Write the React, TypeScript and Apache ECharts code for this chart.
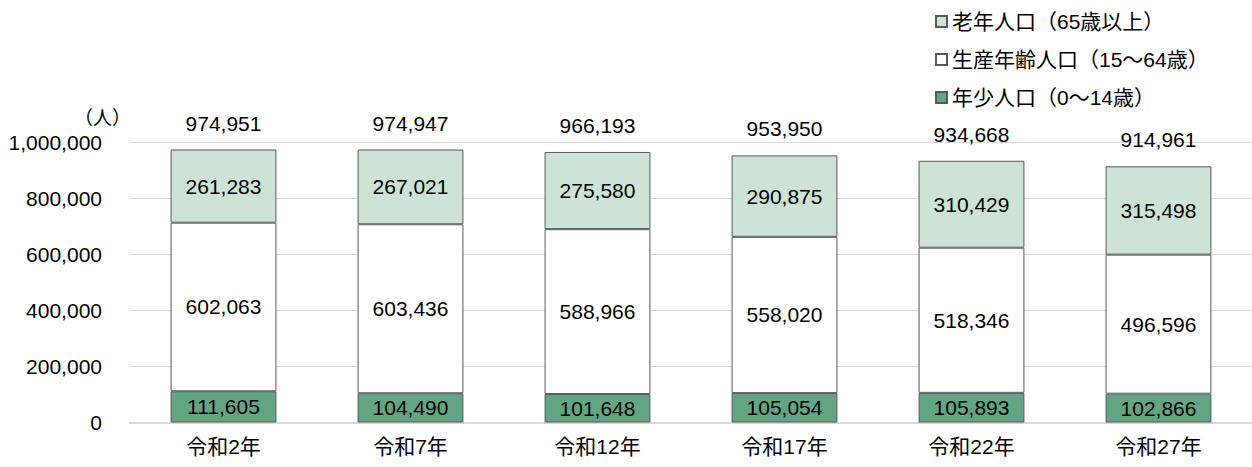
import React, { useEffect, useRef } from "react";
import * as echarts from "echarts";

const categories = ["令和2年", "令和7年", "令和12年", "令和17年", "令和22年", "令和27年"];
const youngValues = [111605, 104490, 101648, 105054, 105893, 102866];
const workingValues = [602063, 603436, 588966, 558020, 518346, 496596];
const elderlyValues = [261283, 267021, 275580, 290875, 310429, 315498];
const totalValues = [974951, 974947, 966193, 953950, 934668, 914961];
const seriesNames = ["年少人口(0～14歳)", "生産年齢人口(15～64歳)", "老年人口(65歳以上)"];
const yTicks = [0, 200000, 400000, 600000, 800000, 1000000];

const FONT = "'Liberation Sans', 'Noto Sans CJK JP', sans-serif";
const fmt = (v: number) => v.toLocaleString("en-US");

export default function App() {
  const ref = useRef<HTMLDivElement>(null);
  useEffect(() => {
    if (!ref.current) return;
    const chart = echarts.init(ref.current, undefined, { renderer: "svg" });
    const border = { borderColor: "#595959", borderWidth: 1 };
    const lbl = { show: true, position: "inside", color: "#000", fontSize: 21, fontFamily: FONT, formatter: (p: any) => fmt(p.value) };
    chart.setOption({
      animation: false,
      textStyle: { fontFamily: FONT },
      grid: { left: 130, top: 142.5, width: 1124, height: 280, containLabel: false },
      legend: {
        orient: "vertical",
        left: 930,
        top: 6,
        itemWidth: 11,
        itemHeight: 11,
        itemGap: 17,
        icon: "rect",
        data: [seriesNames[2], seriesNames[1], seriesNames[0]],
        textStyle: { fontSize: 21, color: "#000", fontFamily: FONT },
        formatter: (n: string) => n.replace("(", "（").replace(")", "）"),
      },
      xAxis: {
        type: "category",
        data: categories,
        axisLine: { lineStyle: { color: "#d9d9d9", width: 2 } },
        axisTick: { show: false },
        axisLabel: { color: "#000", fontSize: 21, margin: 13, fontFamily: FONT },
      },
      yAxis: {
        type: "value",
        min: 0,
        max: 1000000,
        interval: 200000,
        axisLine: { show: false },
        axisTick: { show: false },
        splitLine: { lineStyle: { color: "#d9d9d9", width: 1 } },
        axisLabel: { color: "#000", fontSize: 21, margin: 28, fontFamily: FONT, formatter: (v: number) => (yTicks.includes(v) ? fmt(v) : "") },
      },
      graphic: [
        { type: "text", left: 74, top: 109, style: { text: "（人）", fontSize: 19, fill: "#000", fontFamily: FONT } },
      ],
      series: [
        {
          name: seriesNames[0], type: "bar", stack: "a", barWidth: "56.6%",
          data: youngValues, itemStyle: { color: "#63a583", ...border }, label: lbl,
        },
        {
          name: seriesNames[1], type: "bar", stack: "a",
          data: workingValues, itemStyle: { color: "#ffffff", ...border }, label: lbl,
        },
        {
          name: seriesNames[2], type: "bar", stack: "a",
          data: elderlyValues, itemStyle: { color: "#cce3d6", ...border }, label: lbl,
        },
        {
          name: "total", type: "line", data: totalValues, symbol: "circle", symbolSize: 2,
          showSymbol: true,
          itemStyle: { color: "rgba(0,0,0,0)", borderWidth: 0 },
          lineStyle: { width: 0, color: "rgba(0,0,0,0)" }, silent: true,
          labelLayout: { hideOverlap: false },
          label: { show: true, position: "top", distance: 15, color: "#000", fontSize: 21, fontFamily: FONT, formatter: (p: any) => fmt(p.value) },
        },
      ],
    });
    return () => chart.dispose();
  }, []);
  return <div ref={ref} style={{ position: "absolute", left: 0, top: 0, width: 1252, height: 467 }} />;
}
